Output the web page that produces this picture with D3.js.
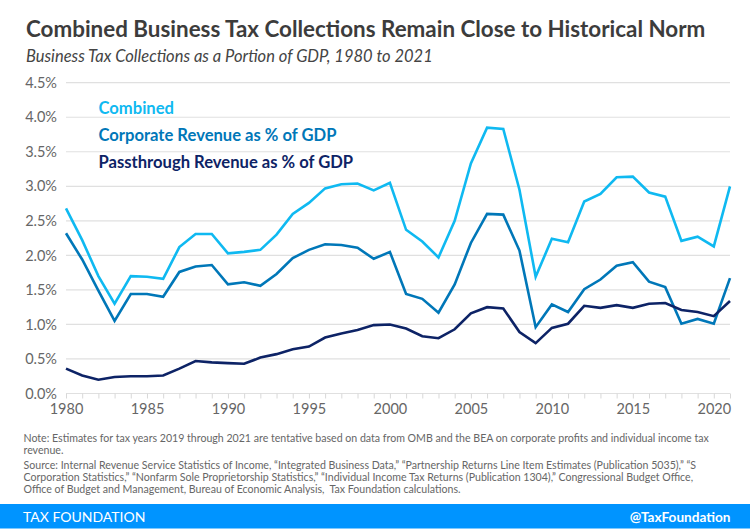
<!DOCTYPE html>
<html>
<head>
<meta charset="utf-8">
<script src="https://cdn.jsdelivr.net/npm/d3@7"></script>
<style>
body { margin: 0; background: #fff; }
text { font-family: Lato, sans-serif; }
</style>
</head>
<body>
<div id="chart-area"></div>
<script>
var years = d3.range(1980, 2022);
var combined = [2.68,2.22,1.70,1.30,1.70,1.69,1.66,2.12,2.31,2.31,2.03,2.05,2.08,2.30,2.60,2.76,2.97,3.03,3.04,2.94,3.05,2.37,2.20,1.97,2.50,3.33,3.85,3.83,2.95,1.69,2.24,2.19,2.78,2.89,3.13,3.14,2.91,2.85,2.21,2.27,2.13,3.00];
var corporate = [2.32,1.94,1.49,1.05,1.44,1.44,1.40,1.76,1.84,1.86,1.58,1.61,1.56,1.73,1.96,2.08,2.16,2.15,2.11,1.95,2.05,1.44,1.37,1.17,1.58,2.18,2.60,2.59,2.07,0.96,1.29,1.18,1.51,1.65,1.85,1.90,1.62,1.54,1.01,1.08,1.01,1.67];
var passthrough = [0.36,0.26,0.20,0.24,0.25,0.25,0.26,0.36,0.47,0.45,0.44,0.43,0.52,0.57,0.64,0.68,0.81,0.87,0.92,0.99,1.00,0.94,0.83,0.80,0.93,1.16,1.25,1.23,0.89,0.73,0.95,1.01,1.27,1.24,1.28,1.24,1.30,1.31,1.21,1.18,1.12,1.34];
var yTicks = [0,0.5,1,1.5,2,2.5,3,3.5,4,4.5];
var xLabels = [1980,1985,1990,1995,2000,2005,2010,2015,2020];
var seriesNames = ["Combined","Corporate Revenue as % of GDP","Passthrough Revenue as % of GDP"];
var seriesColors = ["#0fb9f1","#0077b8","#0d2366"];
var noteLines = [
  "Note: Estimates for tax years 2019 through 2021 are tentative based on data from OMB and the BEA on corporate profits and individual income tax",
  "revenue."
];
var sourceLines = [
  "Source: Internal Revenue Service Statistics of Income, \u201cIntegrated Business Data,\u201d \u201cPartnership Returns Line Item Estimates (Publication 5035),\u201d \u201cS",
  "Corporation Statistics,\u201d \u201cNonfarm Sole Proprietorship Statistics,\u201d \u201cIndividual Income Tax Returns (Publication 1304),\u201d Congressional Budget Office,",
  "Office of Budget and Management, Bureau of Economic Analysis,\u00a0 Tax Foundation calculations."
];

var svg = d3.select("#chart-area").append("svg")
    .attr("width", 750)
    .attr("height", 530)
    .style("display", "block");

var x = d3.scaleLinear().domain([1980, 2021]).range([66, 730]);
var y = d3.scaleLinear().domain([0, 4.5]).range([393.5, 82.7]);

svg.append("text")
    .attr("x", 26).attr("y", 37)
    .attr("font-size", "22.4px").attr("font-weight", 700).attr("fill", "#3c3c3c")
    .text("Combined Business Tax Collections Remain Close to Historical Norm");
svg.append("text")
    .attr("x", 26).attr("y", 61.5)
    .attr("font-size", "16.5px").attr("font-style", "italic").attr("fill", "#444")
    .text("Business Tax Collections as a Portion of GDP, 1980 to 2021");

// grid lines
svg.append("g").selectAll("line").data(yTicks).enter().append("line")
    .attr("x1", 66).attr("x2", 730)
    .attr("y1", d => y(d)).attr("y2", d => y(d))
    .attr("stroke", "#e0e0e0").attr("stroke-width", 1.2);

var leftAxis = d3.axisLeft(y).tickValues(yTicks).tickSize(0).tickPadding(9)
    .tickFormat(d => d.toFixed(1) + "%");
var yG = svg.append("g").attr("transform", "translate(66,0)").call(leftAxis);
yG.select(".domain").remove();
yG.selectAll("text").attr("font-size", "14.5px").attr("fill", "#666");

var bottomAxis = d3.axisBottom(x).tickValues(years).tickSize(5).tickPadding(5)
    .tickFormat(d => xLabels.includes(d) ? d : "");
var xG = svg.append("g").attr("transform", "translate(0,393.5)").call(bottomAxis);
xG.select(".domain").attr("stroke", "#e0e0e0").attr("stroke-width", 1.2).attr("d", "M66,0H730");
xG.selectAll("line").attr("stroke", "#d8d8d8");
xG.selectAll("text").attr("font-size", "14.5px").attr("fill", "#666");

var line = d3.line().x((d, i) => x(years[i])).y(d => y(d));
[combined, corporate, passthrough].forEach((s, i) => {
  svg.append("path").datum(s)
      .attr("d", line)
      .attr("fill", "none")
      .attr("stroke", seriesColors[i])
      .attr("stroke-width", 2.6);
});

// legend
svg.append("g").selectAll("text").data(seriesNames).enter().append("text")
    .attr("x", 98.5)
    .attr("y", (d, i) => 114 + i * 27)
    .attr("font-size", "16.6px").attr("font-weight", 700)
    .attr("fill", (d, i) => seriesColors[i])
    .text(d => d);

// notes
svg.append("g").selectAll("text").data(noteLines).enter().append("text")
    .attr("x", 23.5).attr("y", (d, i) => 442 + i * 12)
    .attr("font-size", "10.6px").attr("fill", "#666")
    .text(d => d);
svg.append("g").selectAll("text").data(sourceLines).enter().append("text")
    .attr("x", 23.5).attr("y", (d, i) => 469 + i * 12)
    .attr("font-size", "10.6px").attr("fill", "#666")
    .text(d => d);

// footer
svg.append("rect").attr("x", 0).attr("y", 504).attr("width", 750).attr("height", 24.5).attr("fill", "#0094ff");
svg.append("text").attr("x", 23).attr("y", 522)
    .attr("font-size", "14px").attr("fill", "#fff").text("TAX FOUNDATION");
svg.append("text").attr("x", 730.5).attr("y", 521.5).attr("text-anchor", "end")
    .attr("font-size", "13.6px").attr("font-weight", 700).attr("fill", "#fff").text("@TaxFoundation");
</script>
</body>
</html>
